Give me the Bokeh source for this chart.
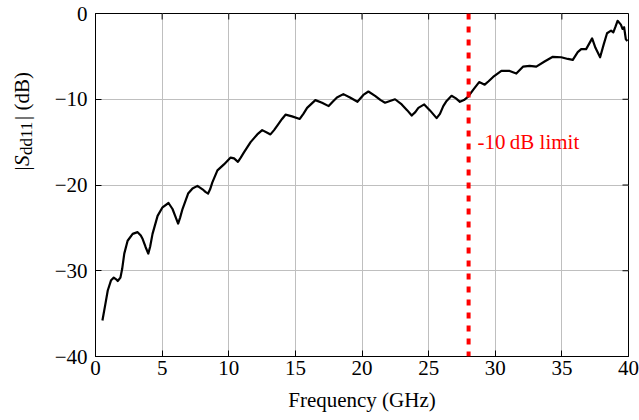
import math
from bokeh.plotting import figure
from bokeh.layouts import row
from bokeh.models import Label, Range1d, FixedTicker, Span
from bokeh.embed import file_html
from bokeh.resources import INLINE

# ---------------- data ----------------
freq_ghz = [0.52, 0.75, 0.92, 1.17, 1.37, 1.55, 1.67, 1.87, 2.0, 2.16, 2.41, 2.79, 3.16, 3.4, 3.54,
            3.75, 3.96, 4.1, 4.28, 4.66, 5.03, 5.48, 5.78, 6.0, 6.2, 6.35, 6.53, 6.95, 7.28, 7.65,
            8.03, 8.25, 8.45, 8.6, 8.77, 9.15, 9.64, 10.14, 10.4, 10.69, 10.9, 11.14, 11.64, 12.14,
            12.51, 12.89, 13.13, 13.4, 13.63, 14.0, 14.26, 14.75, 15.33, 15.6, 15.88, 16.5, 17.0,
            17.5, 17.8, 18.12, 18.6, 19.1, 19.66, 20.1, 20.48, 20.98, 21.4, 21.73, 22.1, 22.48,
            22.98, 23.4, 23.73, 24.0, 24.23, 24.67, 25.1, 25.6, 25.85, 26.1, 26.35, 26.72, 27.05,
            27.35, 27.65, 27.97, 28.34, 28.79, 29.21, 29.5, 29.84, 30.46, 31.08, 31.58, 32.08,
            32.58, 33.08, 33.7, 34.32, 34.95, 35.45, 35.82, 36.19, 36.45, 36.82, 37.02, 37.27,
            37.52, 37.87, 38.14, 38.39, 38.69, 38.86, 39.01, 39.18, 39.43, 39.55, 39.67, 39.8, 39.92]
sdd11_db = [-35.8, -33.8, -32.3, -31.1, -30.8, -31.0, -31.2, -30.8, -29.8, -28.0, -26.5, -25.7, -25.5,
            -25.9, -26.3, -27.2, -28.0, -27.2, -25.7, -23.6, -22.6, -22.1, -22.8, -23.7, -24.5, -23.8,
            -22.8, -21.0, -20.4, -20.1, -20.5, -20.8, -21.0, -20.5, -19.7, -18.3, -17.6, -16.8, -16.9,
            -17.3, -16.8, -16.2, -15.0, -14.1, -13.6, -13.9, -14.1, -13.6, -13.1, -12.3, -11.8, -12.0,
            -12.3, -11.7, -11.0, -10.1, -10.4, -10.8, -10.3, -9.8, -9.4, -9.8, -10.3, -9.5, -9.1, -9.6,
            -10.1, -10.4, -10.2, -10.0, -10.6, -11.3, -11.9, -11.5, -11.0, -10.6, -11.3, -12.2, -11.7,
            -10.8, -10.2, -9.6, -9.9, -10.3, -10.1, -9.7, -8.9, -8.0, -8.3, -7.9, -7.4, -6.7, -6.7,
            -7.0, -6.2, -6.1, -6.2, -5.6, -5.05, -5.1, -5.3, -5.4, -4.5, -4.15, -4.15, -3.6, -2.9,
            -4.0, -5.1, -3.6, -2.3, -2.0, -2.2, -1.6, -0.85, -1.3, -1.8, -1.6, -3.0, -3.2]

x_ticks = [0, 5, 10, 15, 20, 25, 30, 35, 40]
x_tick_labels = ["0", "5", "10", "15", "20", "25", "30", "35", "40"]
y_ticks = [-40, -30, -20, -10, 0]
y_tick_labels = ["\u221240", "\u221230", "\u221220", "\u221210", "0"]

limit_freq = 28
limit_text = "-10\u2009dB limit"
x_label = "Frequency (GHz)"

FONT = "Liberation Serif"
FS = "21px"
H = 420
LW = 40                      # width of the strip that carries the y-axis title
W = 639 - LW
BL, BR, BT, BB = 55, 11, 13, 64
X0, X1, Y0, Y1 = 0, 40, -40, 0
PX_X = (W - BL - BR) / (X1 - X0)   # pixels per GHz

# ---------------- main chart ----------------
p = figure(width=W, height=H, output_backend="svg", toolbar_location=None,
           x_range=Range1d(X0, X1), y_range=Range1d(Y0, Y1),
           min_border_left=BL, min_border_right=BR, min_border_top=BT, min_border_bottom=BB,
           background_fill_color="white", border_fill_color="white")
p.outline_line_color = "black"
p.outline_line_width = 1

for ax, ticks, labels in ((p.xaxis[0], x_ticks, x_tick_labels), (p.yaxis[0], y_ticks, y_tick_labels)):
    ax.ticker = FixedTicker(ticks=ticks)
    ax.major_label_overrides = {t: l for t, l in zip(ticks, labels)}
    ax.major_label_text_font = FONT
    ax.major_label_text_font_size = FS
    ax.major_label_text_color = "black"
    ax.major_tick_in = 6
    ax.major_tick_out = 0
    ax.major_tick_line_color = "black"
    ax.minor_tick_line_color = None
    ax.axis_line_color = "black"

p.xaxis.major_label_standoff = 4
p.yaxis.major_label_standoff = 8
p.xaxis.axis_label = x_label
p.xaxis.axis_label_text_font = FONT
p.xaxis.axis_label_text_font_size = FS
p.xaxis.axis_label_text_font_style = "normal"
p.xaxis.axis_label_text_color = "black"
p.xaxis.axis_label_standoff = 10

p.xgrid.grid_line_color = "#bfbfbf"
p.ygrid.grid_line_color = "#bfbfbf"

# mirrored inward ticks on the top and right edges
p.ray(x=x_ticks, y=[Y1] * len(x_ticks), length=6, length_units="screen",
      angle=-math.pi / 2, line_color="black", line_width=1)
p.ray(x=[X1] * len(y_ticks), y=y_ticks, length=6, length_units="screen",
      angle=math.pi, line_color="black", line_width=1)

p.line(freq_ghz, sdd11_db, line_color="black", line_width=2.2, line_join="round")

p.add_layout(Span(location=limit_freq, dimension="height", line_color="#ff0000",
                  line_width=4, line_dash="6 7"))
p.add_layout(Label(x=limit_freq + 9 / PX_X, y=-15.0, text=limit_text, text_font=FONT,
                   text_font_size=FS, text_color="#ff0000", text_baseline="middle",
                   text_align="left"))

# ---------------- y-axis title strip: |S_dd11| (dB) ----------------
t = figure(width=LW, height=H, output_backend="svg", toolbar_location=None,
           x_range=Range1d(0, LW), y_range=Range1d(0, H),
           min_border=0, min_border_left=0, min_border_right=0, min_border_top=0, min_border_bottom=0,
           background_fill_color="white", border_fill_color="white")
t.axis.visible = False
t.grid.visible = False
t.outline_line_color = None

ang = math.pi / 2
pieces = [            # text, x (px from left), y (px from bottom), size, style
    ("|", 21, 186, FS, "normal"),
    ("S", 21, 190.5, FS, "italic"),
    ("dd11", 26, 201.5, "17px", "normal"),
    ("| (dB)", 21, 236.5, FS, "normal"),
]
for txt, sx, sy, fs, style in pieces:
    t.add_layout(Label(x=sx, y=sy, x_units="screen", y_units="screen", text=txt, angle=ang,
                       text_font=FONT, text_font_size=fs, text_font_style=style,
                       text_color="black", text_align="left", text_baseline="middle"))

layout = row(t, p, spacing=0)
open("out.html", "w").write(file_html(layout, INLINE))
